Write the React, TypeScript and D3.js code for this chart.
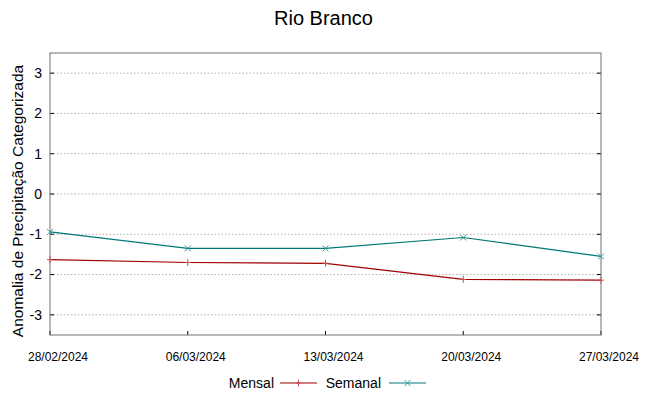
import React, { useEffect, useRef } from 'react';
import * as d3 from 'd3';

const dates = ['28/02/2024', '06/03/2024', '13/03/2024', '20/03/2024', '27/03/2024'];
const mensal = [-1.63, -1.7, -1.72, -2.12, -2.14];
const semanal = [-0.94, -1.35, -1.35, -1.08, -1.55];
const yTicks = [-3, -2, -1, 0, 1, 2, 3];

const App = () => {
    const svgRef = useRef<SVGSVGElement>(null);

    useEffect(() => {
        const svg = d3.select(svgRef.current);
        svg.selectAll('*').remove();

        const width = 649;
        const height = 396;
        const margin = { top: 53, right: 48, bottom: 61, left: 50 };
        const font = "'Liberation Sans', Arial, sans-serif";
        const narrow = "'Liberation Sans Narrow', 'Liberation Sans', Arial, sans-serif";

        const parse = d3.timeParse('%d/%m/%Y');
        const xVals = dates.map(d => parse(d) as Date);

        const x = d3.scaleTime()
            .domain([xVals[0], xVals[xVals.length - 1]])
            .range([margin.left, width - margin.right]);
        const y = d3.scaleLinear()
            .domain([-3.5, 3.5])
            .range([height - margin.bottom, margin.top]);

        // grid
        svg.append('g')
            .selectAll('line')
            .data(yTicks)
            .join('line')
            .attr('x1', margin.left)
            .attr('x2', width - margin.right)
            .attr('y1', d => y(d))
            .attr('y2', d => y(d))
            .attr('stroke', '#b0b0b0')
            .attr('stroke-dasharray', '1.5,2');

        // left / right / bottom ticks
        const tickG = svg.append('g').attr('stroke', '#000');
        tickG.selectAll('line.l')
            .data(yTicks)
            .join('line')
            .attr('class', 'l')
            .attr('x1', margin.left).attr('x2', margin.left + 4)
            .attr('y1', d => y(d)).attr('y2', d => y(d));
        tickG.selectAll('line.r')
            .data(yTicks)
            .join('line')
            .attr('class', 'r')
            .attr('x1', width - margin.right - 4).attr('x2', width - margin.right)
            .attr('y1', d => y(d)).attr('y2', d => y(d));
        tickG.selectAll('line.b')
            .data(xVals)
            .join('line')
            .attr('class', 'b')
            .attr('x1', d => x(d)).attr('x2', d => x(d))
            .attr('y1', height - margin.bottom).attr('y2', height - margin.bottom - 4);

        // frame
        svg.append('rect')
            .attr('x', margin.left)
            .attr('y', margin.top)
            .attr('width', width - margin.left - margin.right)
            .attr('height', height - margin.top - margin.bottom)
            .attr('fill', 'none')
            .attr('stroke', '#707070');

        // y labels
        svg.append('g')
            .selectAll('text')
            .data(yTicks)
            .join('text')
            .attr('x', margin.left - 8)
            .attr('y', d => y(d))
            .attr('dy', '0.35em')
            .attr('text-anchor', 'end')
            .attr('font-family', font)
            .attr('font-size', 14)
            .text(d => d);

        // x labels (gnuplot puts them a bit right of the tick)
        svg.append('g')
            .selectAll('text')
            .data(xVals)
            .join('text')
            .attr('x', d => x(d) + 8)
            .attr('y', height - margin.bottom + 26)
            .attr('text-anchor', 'middle')
            .attr('font-family', narrow)
            .attr('font-size', 12)
            .text((d, i) => dates[i]);

        const line = d3.line<number>()
            .x((d, i) => x(xVals[i]))
            .y(d => y(d));

        const series = [
            { name: 'Mensal', values: mensal, color: '#a00000', markColor: '#c85050', mark: 'plus' },
            { name: 'Semanal', values: semanal, color: '#007878', markColor: '#3a9a9a', mark: 'cross' },
        ];

        const drawMark = (g: any, cx: number, cy: number, mark: string, color: string) => {
            if (mark === 'plus') {
                g.append('path')
                    .attr('d', `M${cx - 3},${cy}H${cx + 3}M${cx},${cy - 3.5}V${cy + 3.5}`)
                    .attr('stroke', color).attr('fill', 'none');
            } else {
                g.append('path')
                    .attr('d', `M${cx - 3},${cy - 3}L${cx + 3},${cy + 3}M${cx - 3},${cy + 3}L${cx + 3},${cy - 3}`)
                    .attr('stroke', color).attr('fill', 'none');
            }
        };

        series.forEach(s => {
            svg.append('path')
                .datum(s.values)
                .attr('d', line)
                .attr('fill', 'none')
                .attr('stroke', s.color)
                .attr('stroke-width', 1.2);
            const g = svg.append('g');
            s.values.forEach((v, i) => drawMark(g, x(xVals[i]), y(v), s.mark, s.markColor));
        });

        // title
        svg.append('text')
            .attr('x', width / 2 - 1)
            .attr('y', 25)
            .attr('text-anchor', 'middle')
            .attr('font-family', font)
            .attr('font-size', 20)
            .text('Rio Branco');

        // y axis title
        svg.append('text')
            .attr('transform', 'translate(23,201) rotate(-90)')
            .attr('text-anchor', 'middle')
            .attr('font-family', font)
            .attr('font-size', 15.5)
            .text('Anomalia de Precipitação Categorizada');

        // legend
        const ly = 383;
        const legend = [
            { label: 'Mensal', tx: 274, lx0: 280, lx1: 317, color: '#a00000', markColor: '#c85050', mark: 'plus' },
            { label: 'Semanal', tx: 381, lx0: 389, lx1: 426, color: '#007878', markColor: '#3a9a9a', mark: 'cross' },
        ];
        legend.forEach(l => {
            svg.append('text')
                .attr('x', l.tx)
                .attr('y', ly)
                .attr('dy', '0.35em')
                .attr('text-anchor', 'end')
                .attr('font-family', font)
                .attr('font-size', 14)
                .text(l.label);
            svg.append('line')
                .attr('x1', l.lx0).attr('x2', l.lx1)
                .attr('y1', ly).attr('y2', ly)
                .attr('stroke', l.color)
                .attr('stroke-width', 1.2);
            drawMark(svg.append('g'), (l.lx0 + l.lx1) / 2, ly, l.mark, l.markColor);
        });
    }, []);

    return (
        <svg ref={svgRef} width={649} height={396}
            style={{ position: 'absolute', left: 0, top: 0, background: '#fff' }} />
    );
};

export default App;
